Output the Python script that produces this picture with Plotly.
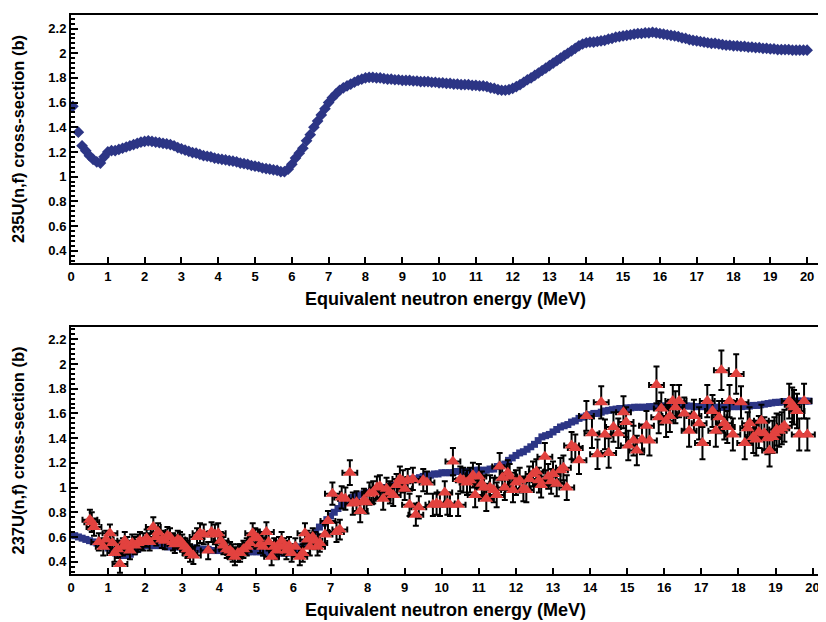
"""Fission cross-section comparison: 235U(n,f) and 237U(n,f) vs equivalent neutron energy."""

import plotly.graph_objects as go

# ---- data -------------------------------------------------------------------

# 235U(n,f) reference curve (top panel)
e235 = [0.05, 0.2, 0.3, 0.4] + [round(0.5 + 0.1 * i, 1) for i in range(196)]
xs235 = [
    1.57, 1.36, 1.25, 1.21,
    1.17, 1.14, 1.12, 1.11, 1.16, 1.20, 1.21, 1.21, 1.22, 1.23,
    1.24, 1.25, 1.26, 1.27, 1.28, 1.285, 1.29, 1.285, 1.28, 1.275,
    1.27, 1.265, 1.26, 1.25, 1.235, 1.225, 1.215, 1.205, 1.195, 1.19,
    1.18, 1.17, 1.165, 1.16, 1.15, 1.145, 1.14, 1.135, 1.13, 1.125,
    1.12, 1.11, 1.105, 1.10, 1.09, 1.085, 1.08, 1.07, 1.065, 1.06,
    1.055, 1.05, 1.04, 1.04, 1.06, 1.10, 1.15, 1.19, 1.23, 1.29,
    1.34, 1.40, 1.45, 1.50, 1.55, 1.60, 1.64, 1.67, 1.70, 1.72,
    1.735, 1.75, 1.765, 1.78, 1.79, 1.80, 1.805, 1.805, 1.80, 1.80,
    1.795, 1.79, 1.79, 1.785, 1.785, 1.78, 1.78, 1.78, 1.775, 1.775,
    1.77, 1.77, 1.77, 1.765, 1.765, 1.76, 1.76, 1.755, 1.755, 1.75,
    1.75, 1.745, 1.745, 1.745, 1.74, 1.74, 1.735, 1.735, 1.73, 1.72,
    1.715, 1.705, 1.70, 1.70, 1.705, 1.715, 1.73, 1.745, 1.765, 1.785,
    1.80, 1.82, 1.84, 1.86, 1.88, 1.90, 1.92, 1.94, 1.96, 1.98,
    2.00, 2.02, 2.04, 2.06, 2.075, 2.085, 2.09, 2.09, 2.095, 2.10,
    2.105, 2.115, 2.12, 2.13, 2.135, 2.14, 2.145, 2.15, 2.155, 2.16,
    2.16, 2.165, 2.165, 2.17, 2.165, 2.16, 2.155, 2.15, 2.145, 2.14,
    2.135, 2.125, 2.12, 2.11, 2.105, 2.10, 2.095, 2.09, 2.085, 2.08,
    2.08, 2.075, 2.07, 2.065, 2.065, 2.06, 2.06, 2.055, 2.055, 2.05,
    2.05, 2.045, 2.045, 2.04, 2.04, 2.035, 2.035, 2.03, 2.03, 2.03,
    2.03, 2.025, 2.025, 2.025, 2.025, 2.025,
]

# evaluated 237U(n,f) curve (bottom panel, blue)
e_eval = [round(0.1 * i, 1) for i in range(200)]
xs_eval = [
    0.62, 0.61, 0.60, 0.59, 0.58, 0.57, 0.56, 0.55, 0.54, 0.53,
    0.51, 0.49, 0.47, 0.46, 0.45, 0.45, 0.46, 0.48, 0.50, 0.52,
    0.53, 0.53, 0.53, 0.53, 0.53, 0.53, 0.52, 0.52, 0.52, 0.52,
    0.52, 0.52, 0.51, 0.51, 0.51, 0.50, 0.50, 0.50, 0.49, 0.49,
    0.49, 0.49, 0.49, 0.48, 0.48, 0.48, 0.48, 0.48, 0.48, 0.48,
    0.48, 0.48, 0.47, 0.47, 0.47, 0.47, 0.47, 0.47, 0.47, 0.47,
    0.48, 0.50, 0.52, 0.55, 0.58, 0.61, 0.64, 0.68, 0.71, 0.74,
    0.77, 0.80, 0.83, 0.86, 0.88, 0.90, 0.92, 0.93, 0.94, 0.95,
    0.96, 0.97, 0.98, 0.98, 0.99, 1.00, 1.01, 1.02, 1.03, 1.04,
    1.05, 1.06, 1.07, 1.07, 1.08, 1.09, 1.10, 1.10, 1.11, 1.11,
    1.12, 1.12, 1.12, 1.12, 1.13, 1.13, 1.13, 1.13, 1.13, 1.14,
    1.14, 1.14, 1.14, 1.15, 1.15, 1.17, 1.18, 1.19, 1.22, 1.24,
    1.26, 1.28, 1.29, 1.31, 1.33, 1.35, 1.38, 1.41, 1.42, 1.43,
    1.45, 1.47, 1.49, 1.50, 1.51, 1.53, 1.54, 1.56, 1.57, 1.58,
    1.59, 1.60, 1.60, 1.61, 1.62, 1.625, 1.63, 1.635, 1.64, 1.64,
    1.645, 1.645, 1.65, 1.65, 1.65, 1.65, 1.655, 1.655, 1.66, 1.66,
    1.66, 1.66, 1.665, 1.665, 1.665, 1.665, 1.66, 1.66, 1.655, 1.655,
    1.655, 1.655, 1.65, 1.65, 1.65, 1.65, 1.65, 1.65, 1.655, 1.655,
    1.655, 1.655, 1.66, 1.66, 1.665, 1.665, 1.67, 1.675, 1.68, 1.685,
    1.69, 1.69, 1.695, 1.695, 1.70, 1.70, 1.70, 1.70, 1.70, 1.70,
]

# measured 237U(n,f) points (bottom panel, red)
e237 = [
    0.51, 0.56, 0.62, 0.75, 0.87, 0.95, 1.05, 1.12, 1.18, 1.25,
    1.32, 1.40, 1.45, 1.52, 1.59, 1.65, 1.72, 1.80, 1.86, 1.95,
    2.04, 2.12, 2.22, 2.30, 2.35, 2.45, 2.53, 2.60, 2.67, 2.75,
    2.80, 2.88, 2.94, 3.00, 3.07, 3.14, 3.21, 3.30, 3.40, 3.48,
    3.58, 3.70, 3.79, 3.88, 3.97, 4.04, 4.11, 4.20, 4.29, 4.36,
    4.42, 4.50, 4.56, 4.65, 4.74, 4.82, 4.90, 4.97, 5.04, 5.10,
    5.18, 5.27, 5.33, 5.41, 5.48, 5.54, 5.61, 5.68, 5.75, 5.81,
    5.88, 5.95, 6.05, 6.17, 6.25, 6.31, 6.38, 6.44, 6.52, 6.58,
    6.65, 6.71, 6.85, 6.93, 7.05, 7.16, 7.25, 7.30, 7.40, 7.52,
    7.60, 7.70, 7.80, 7.90, 7.97, 8.05, 8.15, 8.25, 8.33, 8.42,
    8.51, 8.60, 8.69, 8.78, 8.87, 8.95, 9.00, 9.08, 9.13, 9.22,
    9.30, 9.38, 9.50, 9.60, 9.76, 9.86, 9.95, 10.08, 10.15, 10.22,
    10.30, 10.44, 10.50, 10.58, 10.68, 10.76, 10.84, 10.90, 11.00, 11.08,
    11.14, 11.20, 11.30, 11.40, 11.48, 11.56, 11.63, 11.70, 11.78, 11.83,
    11.92, 12.00, 12.10, 12.20, 12.28, 12.36, 12.46, 12.55, 12.62, 12.68,
    12.78, 12.87, 12.95, 13.00, 13.10, 13.20, 13.28, 13.37, 13.50, 13.60,
    13.70, 13.90, 14.05, 14.20, 14.30, 14.40, 14.50, 14.63, 14.76, 14.90,
    14.97, 15.03, 15.17, 15.26, 15.40, 15.52, 15.60, 15.79, 15.85, 15.92,
    16.05, 16.15, 16.23, 16.30, 16.40, 16.54, 16.67, 16.80, 16.94, 17.03,
    17.16, 17.30, 17.39, 17.48, 17.54, 17.62, 17.70, 17.76, 17.85, 17.94,
    18.07, 18.17, 18.25, 18.30, 18.40, 18.48, 18.55, 18.62, 18.70, 18.78,
    18.84, 18.92, 18.97, 19.03, 19.10, 19.17, 19.24, 19.37, 19.45, 19.50,
    19.58, 19.64, 19.77, 19.86,
]
xs237 = [
    0.74, 0.72, 0.68, 0.56, 0.52, 0.58, 0.63, 0.55, 0.47, 0.50,
    0.38, 0.52, 0.57, 0.53, 0.49, 0.55, 0.53, 0.55, 0.57, 0.56,
    0.59, 0.56, 0.68, 0.60, 0.64, 0.58, 0.57, 0.61, 0.60, 0.56,
    0.54, 0.58, 0.57, 0.55, 0.52, 0.50, 0.47, 0.45, 0.60, 0.63,
    0.62, 0.49, 0.64, 0.62, 0.63, 0.57, 0.53, 0.50, 0.49, 0.47,
    0.44, 0.47, 0.47, 0.50, 0.52, 0.55, 0.63, 0.60, 0.59, 0.54,
    0.52, 0.64, 0.56, 0.44, 0.52, 0.49, 0.53, 0.57, 0.52, 0.49,
    0.53, 0.47, 0.52, 0.44, 0.47, 0.63, 0.58, 0.52, 0.60, 0.57,
    0.52, 0.55, 0.62, 0.73, 0.95, 0.64, 0.66, 0.92, 0.91, 1.12,
    0.87, 0.88, 0.81, 0.90, 0.88, 0.95, 0.96, 1.00, 1.01, 0.91,
    0.99, 0.96, 0.94, 1.02, 1.07, 1.05, 0.99, 1.06, 0.86, 1.07,
    0.78, 0.84, 1.06, 1.04, 0.86, 0.87, 0.86, 0.96, 0.87, 0.86,
    1.21, 0.86, 1.07, 1.06, 1.04, 1.06, 1.10, 0.94, 1.09, 1.03,
    1.00, 0.91, 1.00, 0.98, 0.94, 1.17, 1.08, 1.00, 1.12, 1.09,
    0.98, 1.04, 1.06, 0.99, 0.98, 1.07, 1.11, 1.13, 1.06, 1.02,
    1.25, 1.09, 1.05, 1.11, 1.03, 1.14, 1.16, 1.00, 1.34, 1.32,
    1.22, 1.58, 1.44, 1.27, 1.69, 1.43, 1.28, 1.49, 1.44, 1.61,
    1.53, 1.34, 1.38, 1.30, 1.39, 1.50, 1.38, 1.83, 1.57, 1.64,
    1.54, 1.58, 1.70, 1.65, 1.70, 1.60, 1.46, 1.58, 1.52, 1.36,
    1.70, 1.62, 1.46, 1.57, 1.95, 1.52, 1.49, 1.70, 1.43, 1.92,
    1.69, 1.36, 1.48, 1.52, 1.41, 1.39, 1.45, 1.54, 1.44, 1.40,
    1.30, 1.41, 1.44, 1.47, 1.46, 1.48, 1.50, 1.70, 1.67, 1.65,
    1.62, 1.43, 1.70, 1.43,
]
dxs237 = [
    0.08, 0.08, 0.07, 0.07, 0.07, 0.07, 0.07, 0.07, 0.07, 0.07,
    0.07, 0.07, 0.07, 0.07, 0.07, 0.07, 0.07, 0.07, 0.07, 0.07,
    0.07, 0.07, 0.08, 0.07, 0.07, 0.07, 0.07, 0.07, 0.07, 0.07,
    0.07, 0.07, 0.07, 0.07, 0.07, 0.07, 0.07, 0.07, 0.07, 0.08,
    0.08, 0.07, 0.08, 0.08, 0.08, 0.07, 0.07, 0.07, 0.07, 0.07,
    0.07, 0.07, 0.07, 0.07, 0.07, 0.07, 0.08, 0.07, 0.07, 0.07,
    0.07, 0.08, 0.07, 0.07, 0.07, 0.07, 0.07, 0.07, 0.07, 0.07,
    0.07, 0.07, 0.07, 0.07, 0.07, 0.08, 0.07, 0.07, 0.07, 0.07,
    0.07, 0.07, 0.08, 0.08, 0.09, 0.08, 0.08, 0.09, 0.09, 0.10,
    0.09, 0.09, 0.09, 0.09, 0.09, 0.09, 0.09, 0.09, 0.09, 0.09,
    0.09, 0.09, 0.09, 0.09, 0.10, 0.09, 0.09, 0.09, 0.09, 0.09,
    0.09, 0.09, 0.09, 0.09, 0.09, 0.09, 0.09, 0.09, 0.09, 0.09,
    0.11, 0.09, 0.10, 0.10, 0.10, 0.10, 0.10, 0.10, 0.10, 0.10,
    0.10, 0.10, 0.10, 0.10, 0.10, 0.11, 0.10, 0.10, 0.10, 0.10,
    0.10, 0.10, 0.10, 0.10, 0.10, 0.10, 0.10, 0.10, 0.10, 0.10,
    0.11, 0.10, 0.10, 0.10, 0.10, 0.10, 0.10, 0.10, 0.11, 0.11,
    0.11, 0.12, 0.12, 0.12, 0.13, 0.12, 0.12, 0.12, 0.12, 0.13,
    0.12, 0.12, 0.12, 0.12, 0.12, 0.12, 0.12, 0.15, 0.13, 0.13,
    0.13, 0.13, 0.13, 0.13, 0.13, 0.13, 0.13, 0.13, 0.13, 0.13,
    0.13, 0.13, 0.13, 0.13, 0.16, 0.13, 0.13, 0.13, 0.13, 0.16,
    0.13, 0.13, 0.13, 0.13, 0.13, 0.13, 0.13, 0.13, 0.13, 0.13,
    0.13, 0.13, 0.13, 0.13, 0.13, 0.13, 0.13, 0.14, 0.14, 0.14,
    0.14, 0.13, 0.14, 0.13,
]

x_ticks = list(range(0, 21))
y_ticks = [0.4, 0.6, 0.8, 1, 1.2, 1.4, 1.6, 1.8, 2, 2.2]

# ---- styling ----------------------------------------------------------------

NAVY = "#2c3585"
RED = "#e2423f"
FONT = "Liberation Sans, Arial, Helvetica, sans-serif"

fig = go.Figure()

fig.add_trace(
    go.Scatter(
        x=e235, y=xs235, mode="markers",
        marker=dict(symbol="diamond", size=9, color=NAVY),
        xaxis="x", yaxis="y", showlegend=False,
    )
)
fig.add_trace(
    go.Scatter(
        x=e_eval, y=xs_eval, mode="markers",
        marker=dict(symbol="square", size=7, color=NAVY),
        xaxis="x2", yaxis="y2", showlegend=False,
    )
)
fig.add_trace(
    go.Scatter(
        x=e237, y=xs237, mode="markers",
        marker=dict(symbol="triangle-up", size=12, color=RED),
        error_y=dict(type="data", array=dxs237, color="black", thickness=2, width=3),
        error_x=dict(type="constant", value=0.2, color="black", thickness=2, width=3),
        xaxis="x2", yaxis="y2", showlegend=False,
    )
)

xaxis_style = dict(
    tickvals=x_ticks, automargin=False,
    ticks="inside", ticklen=6, tickwidth=2, tickcolor="black",
    showline=True, linewidth=2, linecolor="black", mirror=True,
    showgrid=False, zeroline=False,
    tickfont=dict(family=FONT, size=13, color="black", weight="bold"),
    title=dict(
        text="Equivalent neutron energy (MeV)",
        font=dict(family=FONT, size=18, color="black", weight="bold"),
        standoff=10,
    ),
)
yaxis_style = dict(
    tickvals=y_ticks, automargin=False,
    ticks="inside", ticklen=7, tickwidth=2, tickcolor="black",
    minor=dict(dtick=0.04, ticks="inside", ticklen=4, tickwidth=2, tickcolor="black"),
    showline=True, linewidth=2, linecolor="black", mirror=True,
    showgrid=False, zeroline=False,
    tickfont=dict(family=FONT, size=13, color="black", weight="bold"),
)
ytitle_font = dict(family=FONT, size=16.5, color="black", weight="bold")

# the page body adds an 8px offset, so the figure is sized to fit after it
fig.update_layout(
    width=818, height=614,
    margin=dict(l=63, r=6, t=7, b=48),
    paper_bgcolor="white", plot_bgcolor="white",
    xaxis=dict(**xaxis_style, domain=[0, 1], range=[0, 20.35], anchor="y"),
    yaxis=dict(
        **yaxis_style, domain=[0.5564, 1], range=[0.3, 2.31], anchor="x",
        title=dict(text="235U(n,f) cross-section (b)", font=ytitle_font, standoff=20),
    ),
    xaxis2=dict(**xaxis_style, domain=[0, 1], range=[0, 20.2], anchor="y2"),
    yaxis2=dict(
        **yaxis_style, domain=[0, 0.4419], range=[0.3, 2.3], anchor="x2",
        title=dict(text="237U(n,f) cross-section (b)", font=ytitle_font, standoff=20),
    ),
)

fig.write_html("out.html")
